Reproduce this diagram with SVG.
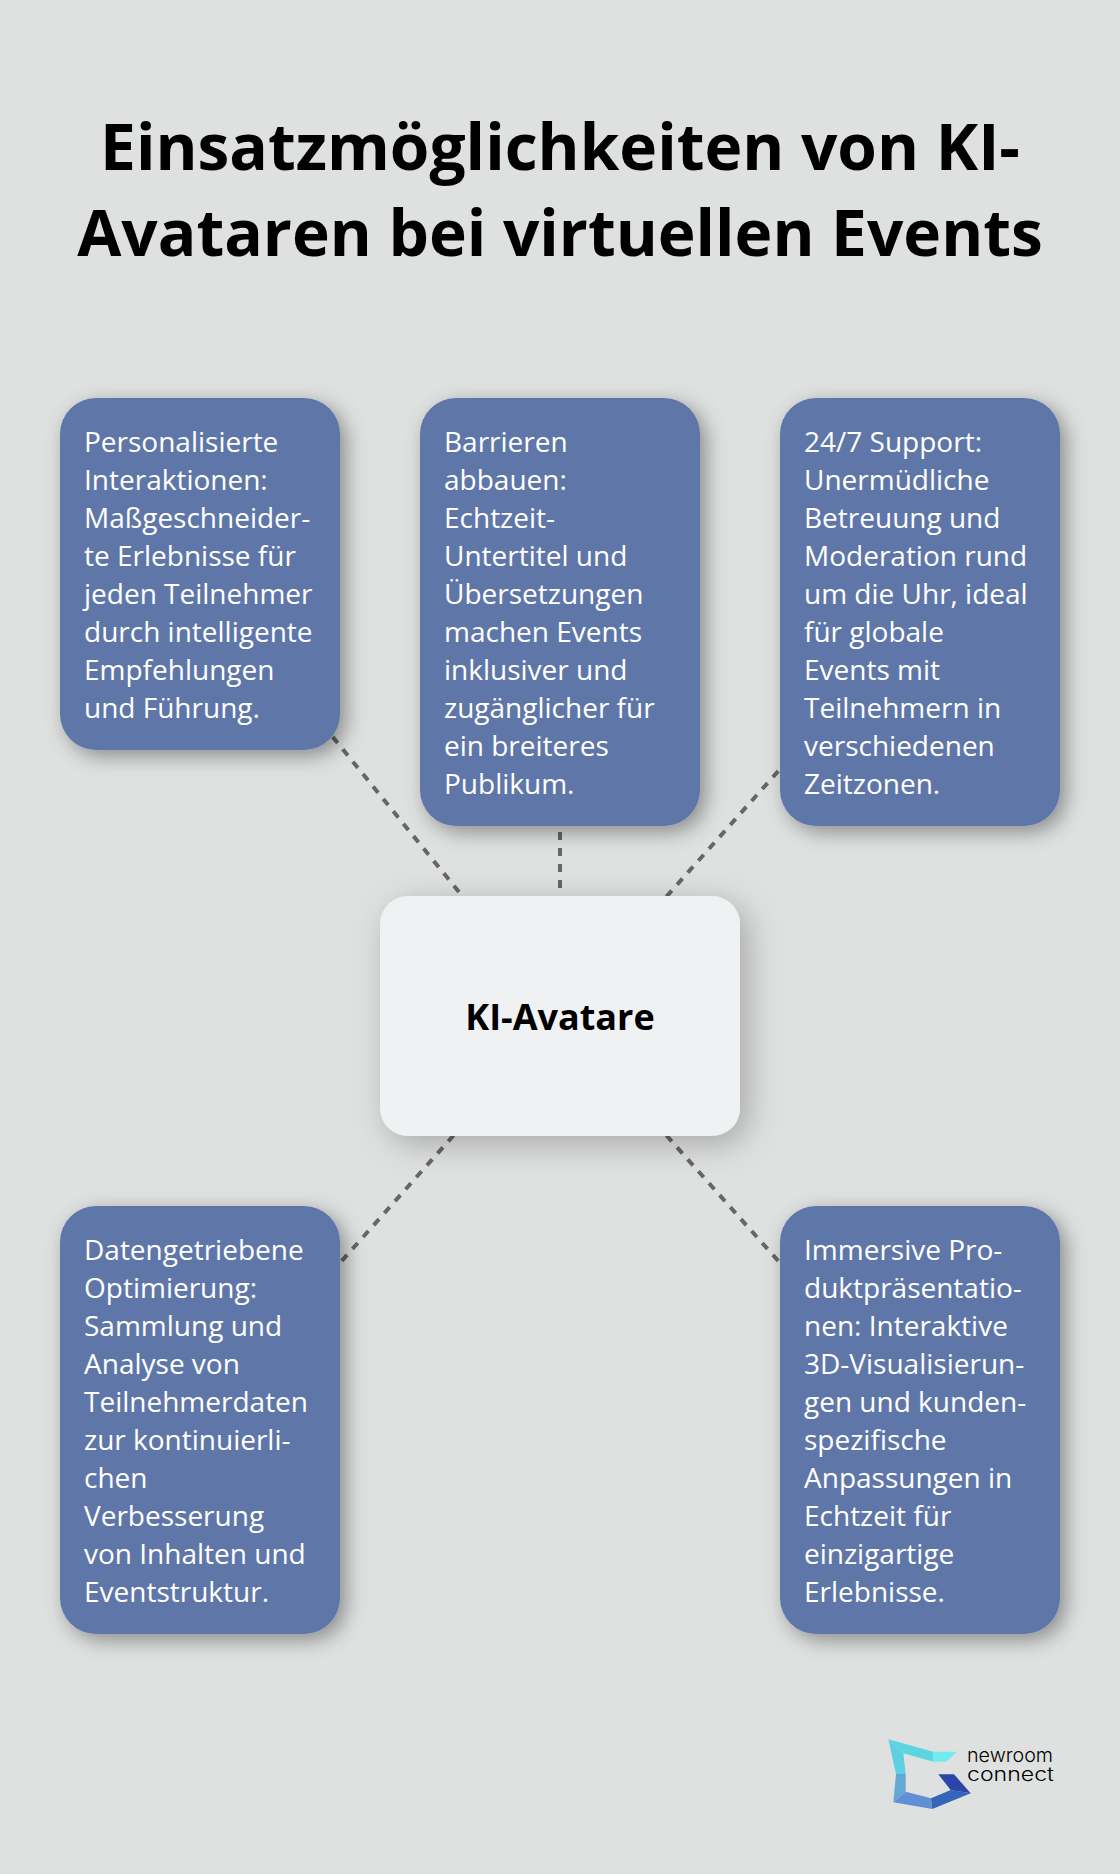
<svg xmlns="http://www.w3.org/2000/svg" width="1120" height="1874" viewBox="0 0 1120 1874">
<defs>
<filter id="s" x="-30%" y="-30%" width="170%" height="170%"><feDropShadow dx="6" dy="6" stdDeviation="10" flood-color="#000" flood-opacity="0.38"/></filter>
<filter id="s2" x="-30%" y="-30%" width="170%" height="170%"><feDropShadow dx="8" dy="8" stdDeviation="16" flood-color="#000" flood-opacity="0.25"/></filter>
</defs>
<style>
.t{font-family:"Open Sans","Noto Sans",sans-serif;font-weight:700;font-size:64px;fill:#000;text-anchor:middle}
.b{font-family:"Open Sans","Noto Sans",sans-serif;font-size:28px;fill:#fff}
.c{fill:#5e77a8;filter:url(#s)}
.l{fill:#000;font-family:"Inter",sans-serif;font-weight:300;font-size:19px}
.k{stroke:#666;stroke-width:4;stroke-dasharray:8 8;fill:none}
</style>
<rect width="1120" height="1874" fill="#dfe1e0"/>
<g id="title"><text class="t" x="560" y="170">Einsatzmöglichkeiten von KI-</text><text class="t" x="560" y="256">Avataren bei virtuellen Events</text></g>
<g id="connectors">
<line class="k" x1="560" y1="1016" x2="200" y2="574"/>
<line class="k" x1="560" y1="1016" x2="560" y2="612"/>
<line class="k" x1="560" y1="1016" x2="920" y2="612"/>
<line class="k" x1="560" y1="1016" x2="200" y2="1420"/>
<line class="k" x1="560" y1="1016" x2="920" y2="1420"/>
</g>
<g id="n1"><rect class="c" x="60" y="398" width="280" height="352" rx="36"/>
<text class="b" y="452"><tspan x="84" dy="0">Personalisierte</tspan><tspan x="84" dy="38">Interaktionen:</tspan><tspan x="84" dy="38">Maßgeschneider-</tspan><tspan x="84" dy="38">te Erlebnisse für</tspan><tspan x="84" dy="38">jeden Teilnehmer</tspan><tspan x="84" dy="38">durch intelligente</tspan><tspan x="84" dy="38">Empfehlungen</tspan><tspan x="84" dy="38">und Führung.</tspan></text></g>
<g id="n2"><rect class="c" x="420" y="398" width="280" height="428" rx="36"/>
<text class="b" y="452"><tspan x="444" dy="0">Barrieren</tspan><tspan x="444" dy="38">abbauen:</tspan><tspan x="444" dy="38">Echtzeit-</tspan><tspan x="444" dy="38">Untertitel und</tspan><tspan x="444" dy="38">Übersetzungen</tspan><tspan x="444" dy="38">machen Events</tspan><tspan x="444" dy="38">inklusiver und</tspan><tspan x="444" dy="38">zugänglicher für</tspan><tspan x="444" dy="38">ein breiteres</tspan><tspan x="444" dy="38">Publikum.</tspan></text></g>
<g id="n3"><rect class="c" x="780" y="398" width="280" height="428" rx="36"/>
<text class="b" y="452"><tspan x="804" dy="0">24/7 Support:</tspan><tspan x="804" dy="38">Unermüdliche</tspan><tspan x="804" dy="38">Betreuung und</tspan><tspan x="804" dy="38">Moderation rund</tspan><tspan x="804" dy="38">um die Uhr, ideal</tspan><tspan x="804" dy="38">für globale</tspan><tspan x="804" dy="38">Events mit</tspan><tspan x="804" dy="38">Teilnehmern in</tspan><tspan x="804" dy="38">verschiedenen</tspan><tspan x="804" dy="38">Zeitzonen.</tspan></text></g>
<g id="n4"><rect class="c" x="60" y="1206" width="280" height="428" rx="36"/>
<text class="b" y="1260"><tspan x="84" dy="0">Datengetriebene</tspan><tspan x="84" dy="38">Optimierung:</tspan><tspan x="84" dy="38">Sammlung und</tspan><tspan x="84" dy="38">Analyse von</tspan><tspan x="84" dy="38">Teilnehmerdaten</tspan><tspan x="84" dy="38">zur kontinuierli-</tspan><tspan x="84" dy="38">chen</tspan><tspan x="84" dy="38">Verbesserung</tspan><tspan x="84" dy="38">von Inhalten und</tspan><tspan x="84" dy="38">Eventstruktur.</tspan></text></g>
<g id="n5"><rect class="c" x="780" y="1206" width="280" height="428" rx="36"/>
<text class="b" y="1260"><tspan x="804" dy="0">Immersive Pro-</tspan><tspan x="804" dy="38">duktpräsentatio-</tspan><tspan x="804" dy="38">nen: Interaktive</tspan><tspan x="804" dy="38">3D-Visualisierun-</tspan><tspan x="804" dy="38">gen und kunden-</tspan><tspan x="804" dy="38">spezifische</tspan><tspan x="804" dy="38">Anpassungen in</tspan><tspan x="804" dy="38">Echtzeit für</tspan><tspan x="804" dy="38">einzigartige</tspan><tspan x="804" dy="38">Erlebnisse.</tspan></text></g>
<g id="center"><rect x="380" y="896" width="360" height="240" rx="28" fill="#eff1f3" filter="url(#s2)"/>
<text x="560" y="1030" text-anchor="middle" font-family="Open Sans, Noto Sans, sans-serif" font-weight="700" font-size="36" fill="#000">KI-Avatare</text></g>
<g id="logo">
<polygon points="888.3,1739.3 933.3,1751.7 933.3,1761.7 903.3,1753.3" fill="#5bd6e0"/>
<polygon points="933.3,1751.7 957.3,1751.7 946,1761.7 933.3,1761.7" fill="#70ecf0"/>
<polygon points="888.3,1739.3 903.3,1753.3 905.7,1774 896,1774" fill="#5fcfe3"/>
<polygon points="896,1774 905.7,1774 905.7,1791.7 893.3,1802.3" fill="#63a9d4"/>
<polygon points="905.7,1791.7 931,1798.3 932.3,1809 893.3,1802.3" fill="#5f8fd4"/>
<polygon points="931,1798.3 950.7,1790 970.7,1793.3 932.3,1809" fill="#3565b8"/>
<polygon points="938.3,1774.3 954,1774.3 970.7,1793.3 950.7,1790" fill="#2b45a8"/>
<text class="l" x="967" y="1761.7" textLength="86" lengthAdjust="spacingAndGlyphs">newroom</text>
<text class="l" x="967" y="1781" textLength="87" lengthAdjust="spacingAndGlyphs">connect</text>
</g>
</svg>
